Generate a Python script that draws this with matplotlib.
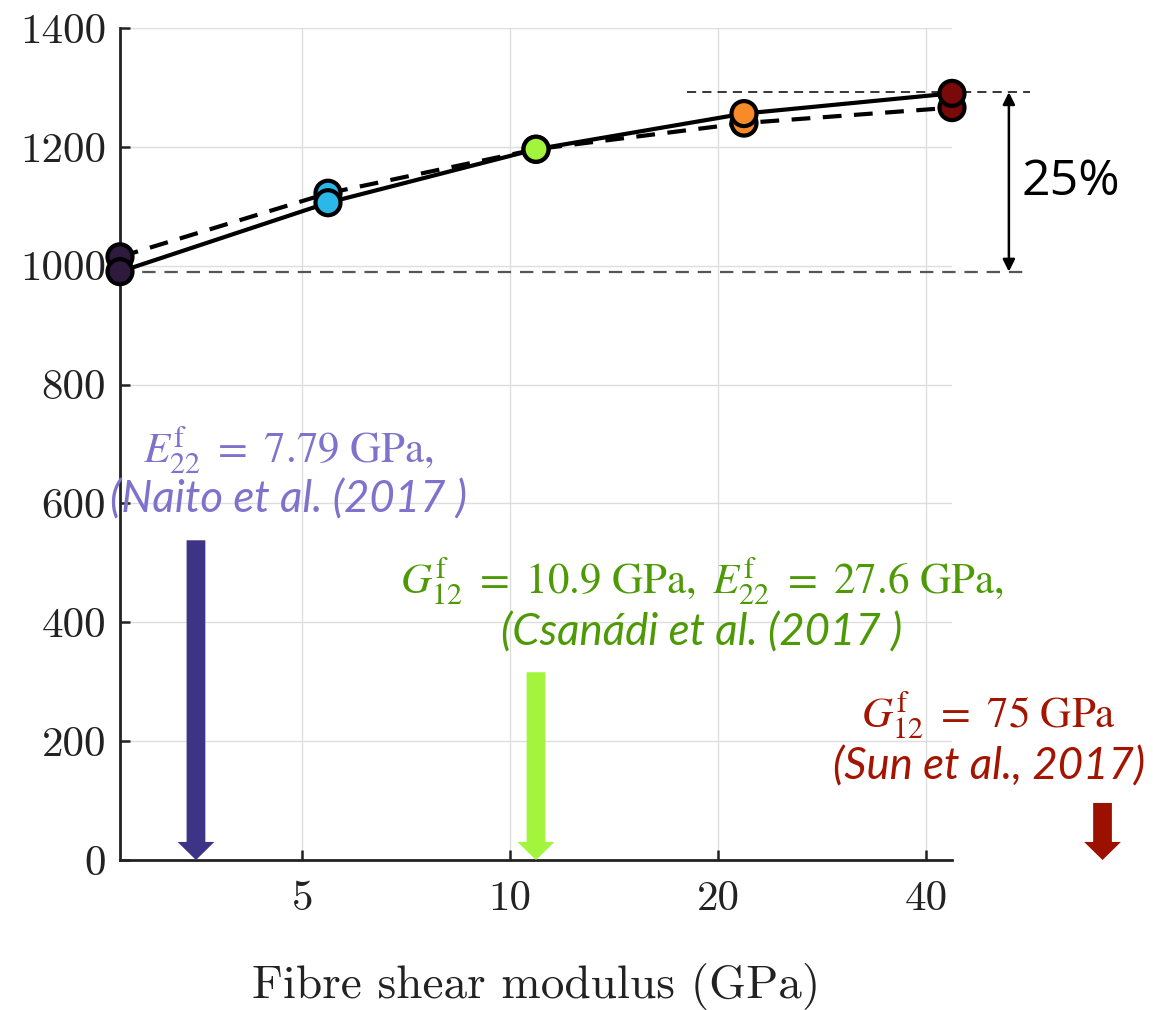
import matplotlib
matplotlib.use("Agg")
import matplotlib.pyplot as plt
from matplotlib.patches import FancyArrowPatch
from matplotlib.ticker import FixedLocator, NullLocator, FixedFormatter

# ---------------- data ----------------
shear_modulus = [2.725, 5.45, 10.9, 21.8, 43.6]
strength_solid = [990, 1106, 1196, 1256, 1290]
strength_dashed = [1015, 1122, 1196, 1240, 1266]
marker_colors = ["#2e1a3d", "#2bb7e8", "#a2f53c", "#f98a2a", "#7a0a0a"]

x_ticks = [5, 10, 20, 40]
x_ticklabels = ["5", "10", "20", "40"]
y_ticks = [0, 200, 400, 600, 800, 1000, 1200, 1400]

ref_x = [3.51, 10.9, 72.0]
ref_top = [538, 316, 96]
ref_arrow_colors = ["#3d3487", "#a2f53c", "#9c1000"]
ref_text_colors = ["#7f72cc", "#4e9a06", "#a31401"]
ref_line1 = [r"$E^{\mathrm{f}}_{22}\ =\ 7.79\ \mathrm{GPa},$",
             r"$G^{\mathrm{f}}_{12}\ =\ 10.9\ \mathrm{GPa},\ E^{\mathrm{f}}_{22}\ =\ 27.6\ \mathrm{GPa},$",
             r"$G^{\mathrm{f}}_{12}\ =\ 75\ \mathrm{GPa}$"]
ref_line2 = ["(Naito et al. (2017 )", "(Csanádi et al. (2017 )", "(Sun et al., 2017)"]

range_low = 990
range_high = 1292
range_text = "25%"

# ---------------- figure ----------------
fig = plt.figure(figsize=(11.53, 10.10), dpi=100)
ax = fig.add_axes([120 / 1153, 1 - 860 / 1010, 832 / 1153, 832 / 1010])

ax.set_xscale("log")
ax.set_xlim(shear_modulus[0], shear_modulus[-1])
ax.set_ylim(0, 1400)

ax.xaxis.set_major_locator(FixedLocator(x_ticks))
ax.xaxis.set_major_formatter(FixedFormatter(x_ticklabels))
ax.xaxis.set_minor_locator(NullLocator())
ax.set_yticks(y_ticks)

for s in ["top", "right"]:
    ax.spines[s].set_visible(False)
for s in ["left", "bottom"]:
    ax.spines[s].set_linewidth(2.0)
    ax.spines[s].set_color("#222222")

ax.grid(True, color="#dedede", lw=1.0)
ax.set_axisbelow(True)
ax.tick_params(direction="in", length=7, width=1.8, color="#222222",
               labelsize=31, pad=10)
for lab in ax.get_xticklabels() + ax.get_yticklabels():
    lab.set_fontfamily("cmr10")
    lab.set_color("#222222")
ax.tick_params(axis="x", pad=15)
ax.set_xlabel("Fibre shear modulus (GPa)", fontsize=34, fontfamily="cmr10",
              color="#222222", labelpad=32)

# lines and markers
ax.plot(shear_modulus, strength_dashed, color="black", lw=3.0, ls=(0, (4.5, 3)),
        zorder=3, clip_on=False)
ax.scatter(shear_modulus, strength_dashed, s=18 ** 2, c=marker_colors,
           edgecolors="black", linewidths=3.0, zorder=4, clip_on=False)
ax.plot(shear_modulus, strength_solid, color="black", lw=3.0, zorder=5, clip_on=False)
ax.scatter(shear_modulus, strength_solid, s=18 ** 2, c=marker_colors,
           edgecolors="black", linewidths=3.0, zorder=6, clip_on=False)

# reference range lines
ax.plot([18.0, 56.6], [range_high, range_high], color="black", lw=1.1,
        ls=(0, (6, 4)), clip_on=False, zorder=2)
ax.plot([shear_modulus[0], 56.6], [range_low, range_low], color="#555555", lw=1.6,
        ls=(0, (6, 4)), clip_on=False, zorder=2)
ax.annotate("", xy=(52.7, range_low), xytext=(52.7, range_high),
            arrowprops=dict(arrowstyle="<|-|>", color="black", lw=1.8,
                            mutation_scale=18, shrinkA=0, shrinkB=0),
            annotation_clip=False)
ax.text((1021 - 120) / 832, (860 - 182) / 832, range_text, transform=ax.transAxes,
        fontsize=36, fontfamily="Open Sans", ha="left", va="center", color="black")

# reference arrows
for x, top, c in zip(ref_x, ref_top, ref_arrow_colors):
    arr = FancyArrowPatch((x, top), (x, 0),
                          arrowstyle="simple,head_length=13,head_width=26.5,tail_width=13.5",
                          mutation_scale=1, color=c, lw=0, shrinkA=0, shrinkB=0,
                          clip_on=False, zorder=3)
    ax.add_patch(arr)

# reference texts
text_x = [(288 - 120) / 832, (702 - 120) / 832, (989 - 120) / 832]
text_y1 = [(860 - 450) / 832, (860 - 581) / 832, (860 - 715) / 832]
text_y2 = [(860 - 500) / 832, (860 - 633) / 832, (860 - 767) / 832]
for tx, y1, y2, l1, l2, c in zip(text_x, text_y1, text_y2, ref_line1, ref_line2,
                                 ref_text_colors):
    ax.text(tx, y1, l1, transform=ax.transAxes, fontsize=31, color=c,
            ha="center", va="center", math_fontfamily="stix", clip_on=False)
    ax.text(tx, y2, l2, transform=ax.transAxes, fontsize=31.5, color=c,
            ha="center", va="center", fontfamily="Lato", fontstyle="italic",
            clip_on=False)

fig.savefig("out.png", dpi=100)
